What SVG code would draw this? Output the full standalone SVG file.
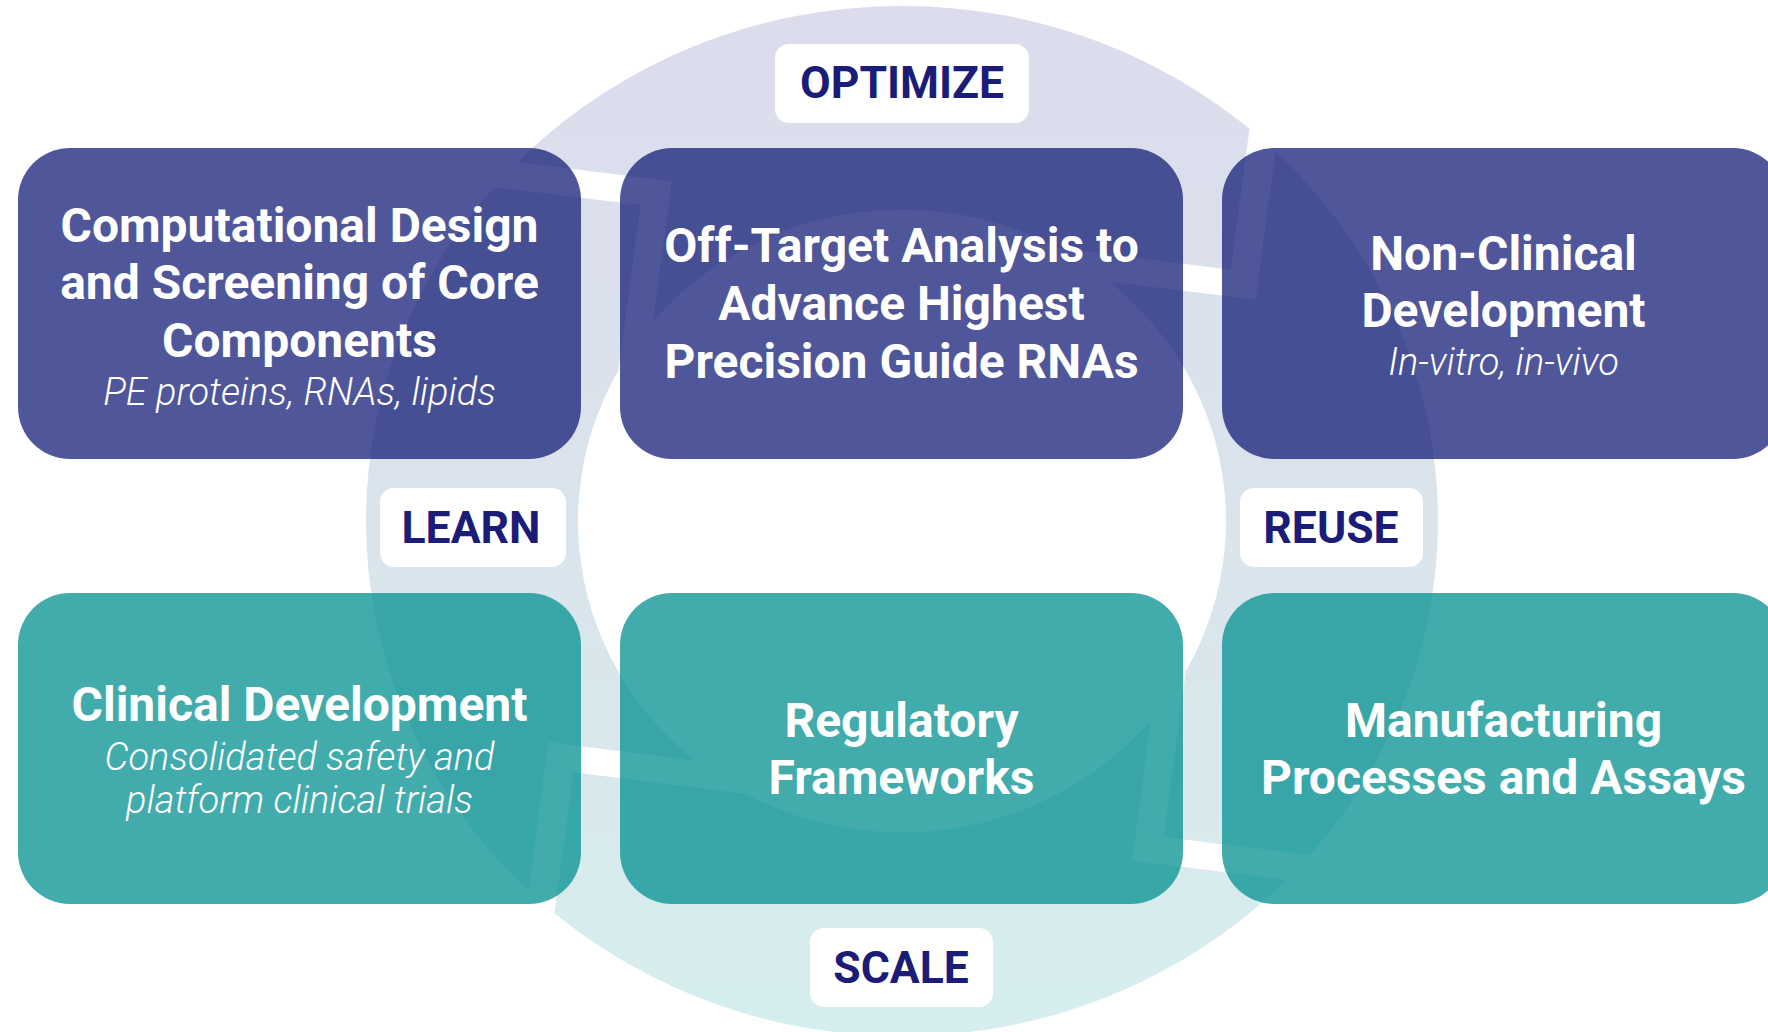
<svg xmlns="http://www.w3.org/2000/svg" xmlns:xlink="http://www.w3.org/1999/xlink" width="1768" height="1032" viewBox="0 0 1768 1032">
<style>
.title{font-family:Roboto,'Liberation Sans',sans-serif;font-weight:700;font-size:48px;fill:#ffffff;text-anchor:middle}
.sub{font-family:Roboto,'Liberation Sans',sans-serif;font-weight:300;font-style:italic;font-size:38px;fill:#ffffff;text-anchor:middle}
.lbl{font-family:Roboto,'Liberation Sans',sans-serif;font-weight:700;font-size:44.5px;fill:#1a1c78;text-anchor:middle}
.purple{fill:#111b75;fill-opacity:0.74}
.teal{fill:#008f8f;fill-opacity:0.74}
.tag{fill:#ffffff}
.gap{fill:#ffffff}
</style>
<defs>
<linearGradient id="ringGrad" gradientUnits="userSpaceOnUse" x1="0" y1="-536" x2="0" y2="536">
<stop offset="0" stop-color="#dcdcec"/>
<stop offset="0.5" stop-color="#dae4ec"/>
<stop offset="1" stop-color="#d6eeee"/>
</linearGradient>
<polygon id="gap" class="gap" points="600,-175 420,0 260,-165 260,-125 420,40 600,-135"/>
</defs>
<rect width="1768" height="1032" fill="#ffffff"/>
<g id="connectors" transform="translate(902,521) scale(1,0.961)">
<path d="M-536,0 A536,536 0 1,0 536,0 A536,536 0 1,0 -536,0 Z M-324,0 A324,324 0 1,0 324,0 A324,324 0 1,0 -324,0 Z" fill-rule="evenodd" fill="url(#ringGrad)"/>
<use href="#gap" transform="rotate(-128.5)"/>
<use href="#gap" transform="rotate(-38.5)"/>
<use href="#gap" transform="rotate(51.5)"/>
<use href="#gap" transform="rotate(141.5)"/>
</g>
<g id="label-optimize"><rect class="tag" x="775" y="44" width="254" height="79" rx="14"/><text class="lbl" x="902" y="98">OPTIMIZE</text></g>
<g id="label-learn"><rect class="tag" x="380" y="488" width="186" height="79" rx="14"/><text class="lbl" x="471" y="543">LEARN</text></g>
<g id="label-reuse"><rect class="tag" x="1240" y="488" width="183" height="79" rx="14"/><text class="lbl" x="1331" y="543">REUSE</text></g>
<g id="label-scale"><rect class="tag" x="810" y="928" width="183" height="79" rx="14"/><text class="lbl" x="901" y="983">SCALE</text></g>
<g id="node-computational-design">
<rect class="purple" x="18" y="148" width="563" height="311" rx="52"/>
<text class="title" x="299.5" y="242">Computational Design</text>
<text class="title" x="299.5" y="299">and Screening of Core</text>
<text class="title" x="299.5" y="357">Components</text>
<text class="sub" x="299.5" y="405">PE proteins, RNAs, lipids</text>
</g>
<g id="node-off-target">
<rect class="purple" x="620" y="148" width="563" height="311" rx="52"/>
<text class="title" x="901.5" y="262">Off-Target Analysis to</text>
<text class="title" x="901.5" y="320">Advance Highest</text>
<text class="title" x="901.5" y="378">Precision Guide RNAs</text>
</g>
<g id="node-non-clinical">
<rect class="purple" x="1222" y="148" width="563" height="311" rx="52"/>
<text class="title" x="1503.5" y="270">Non-Clinical</text>
<text class="title" x="1503.5" y="327">Development</text>
<text class="sub" x="1503.5" y="375">In-vitro, in-vivo</text>
</g>
<g id="node-clinical">
<rect class="teal" x="18" y="593" width="563" height="311" rx="52"/>
<text class="title" x="299.5" y="721">Clinical Development</text>
<text class="sub" x="299.5" y="770">Consolidated safety and</text>
<text class="sub" x="299.5" y="813">platform clinical trials</text>
</g>
<g id="node-regulatory">
<rect class="teal" x="620" y="593" width="563" height="311" rx="52"/>
<text class="title" x="901.5" y="737">Regulatory</text>
<text class="title" x="901.5" y="794">Frameworks</text>
</g>
<g id="node-manufacturing">
<rect class="teal" x="1222" y="593" width="563" height="311" rx="52"/>
<text class="title" x="1503.5" y="737">Manufacturing</text>
<text class="title" x="1503.5" y="794">Processes and Assays</text>
</g>
</svg>
